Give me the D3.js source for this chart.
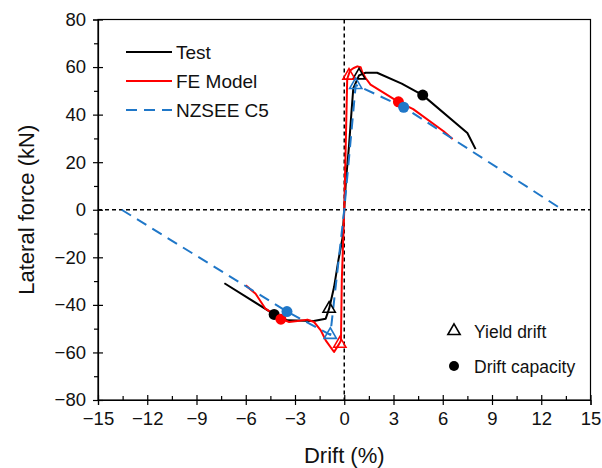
<!DOCTYPE html>
<html><head><meta charset="utf-8">
<script src="https://cdn.jsdelivr.net/npm/d3@7"></script>
<style>
html,body{margin:0;padding:0;background:#fff;}
svg{display:block;font-family:"Liberation Sans",Arial,sans-serif;}
</style></head>
<body>
<svg id="chart" width="602" height="468"></svg>
<script>
// ---- data ----
const xTickValues = [-15,-12,-9,-6,-3,0,3,6,9,12,15];
const yTickValues = [-80,-60,-40,-20,0,20,40,60,80];
const seriesNames = ["Test","FE Model","NZSEE C5"];
const testCurve = [[-7.3,-30.9],[-4.27,-44],[-3.46,-46.5],[-1.86,-46.8],[-1.13,-45.8],[-0.92,-41.6],[-0.62,-32.5],[-0.35,-21],[-0.11,-12],[0,0],[0.1,12],[0.28,26],[0.45,42],[0.55,51],[0.9,56.5],[1.3,57.6],[2.0,57.6],[3.5,53],[4.78,48.2],[7.5,32.3],[8.0,25.5]];
const feCurve = [[-6.0,-31.8],[-5.4,-35.3],[-4.8,-41.6],[-3.86,-45.8],[-3.36,-47.2],[-2.85,-46.8],[-2.24,-46.2],[-1.84,-47.2],[-1.43,-50.7],[-1.13,-54.9],[-0.62,-59.8],[-0.32,-56.5],[-0.2,-55],[-0.15,-30],[0,0],[0.1,30],[0.18,55],[0.35,58.5],[0.55,59.5],[0.8,60.3],[1.0,59.9],[1.1,57.8],[1.3,55.4],[1.6,52.6],[3.3,45.4],[4.2,42.3],[6.05,33],[6.6,29.7]];
const nzseeCurve = [[-13.56,0],[-3.49,-42.8],[-0.85,-52.6],[0,0],[0.7,52.5],[3.62,43.1],[13.3,0]];
const yieldPoints = [ {s:0,x:0.9,y:56.5},{s:0,x:-0.92,y:-41.6},{s:1,x:0.29,y:56.4},{s:1,x:-0.27,y:-56.3},{s:2,x:0.7,y:52.5},{s:2,x:-0.85,y:-52.6} ];
const capacityPoints = [ {s:0,x:4.78,y:48.2},{s:0,x:-4.27,y:-44},{s:1,x:3.3,y:45.4},{s:1,x:-3.86,y:-46},{s:2,x:3.62,y:43.1},{s:2,x:-3.49,y:-42.8} ];
const colors = ["#000000","#ff0000","#1f77c8"];

// ---- layout ----
const svg = d3.select("#chart");
const L=98, R=590.5, T=19.5, B=400;
const x = d3.scaleLinear().domain([-15,15]).range([L,R]);
const y = d3.scaleLinear().domain([-80,80]).range([B,T]);

// frame
svg.append("rect").attr("x",L).attr("y",T).attr("width",R-L).attr("height",B-T)
  .attr("fill","none").attr("stroke","#000").attr("stroke-width",1.2);

// zero dashed lines
svg.append("line").attr("x1",L).attr("x2",R).attr("y1",y(0)).attr("y2",y(0))
  .attr("stroke","#000").attr("stroke-width",1.5).attr("stroke-dasharray","4,3");
svg.append("line").attr("x1",x(0)).attr("x2",x(0)).attr("y1",T).attr("y2",B)
  .attr("stroke","#000").attr("stroke-width",1.5).attr("stroke-dasharray","4,3");

// axes
const minorX = d3.range(-13.5,15,3);
const minorY = d3.range(-70,80,20);
const gx = svg.append("g").attr("transform",`translate(0,${B})`)
  .call(d3.axisBottom(x).tickValues(xTickValues).tickSize(5).tickPadding(7).tickFormat(d3.format("d")));
gx.selectAll(".tick").append("line").attr("y2",-5).attr("stroke","#000");
svg.append("g").attr("transform",`translate(0,${B})`)
  .call(d3.axisBottom(x).tickValues(minorX).tickSize(-4).tickFormat(""))
  .select(".domain").remove();
const gy = svg.append("g").attr("transform",`translate(${L},0)`)
  .call(d3.axisLeft(y).tickValues(yTickValues).tickSize(5).tickPadding(7).tickFormat(d3.format("d")));
gy.selectAll(".tick").append("line").attr("x2",5).attr("stroke","#000");
svg.append("g").attr("transform",`translate(${L},0)`)
  .call(d3.axisLeft(y).tickValues(minorY).tickSize(4).tickFormat(""))
  .select(".domain").remove();
svg.selectAll(".domain").attr("stroke","#000").attr("stroke-width",1.2);
svg.selectAll(".tick line").attr("stroke","#000").attr("stroke-width",1.2);
svg.selectAll(".tick text").attr("font-size",18.5).attr("fill","#111")
  .attr("font-family","Liberation Sans, Arial, sans-serif");

// axis titles
svg.append("text").attr("x",x(0)).attr("y",463).attr("text-anchor","middle")
  .attr("font-size",22).attr("fill","#111").text("Drift (%)");
svg.append("text").attr("transform",`translate(34,${y(0)}) rotate(-90)`).attr("text-anchor","middle")
  .attr("font-size",22).attr("fill","#111").text("Lateral force (kN)");

// curves
const line = d3.line().x(d=>x(d[0])).y(d=>y(d[1]));
const curves = [testCurve, feCurve, nzseeCurve];
curves.forEach((c,i)=>{
  svg.append("path").datum(c).attr("d",line).attr("fill","none")
    .attr("stroke",colors[i]).attr("stroke-width",2)
    .attr("stroke-linejoin","round")
    .attr("stroke-dasharray", i===2 ? "11,7" : null);
});

// markers
const tri = d3.symbol().type(d3.symbolTriangle).size(65);
svg.selectAll(".yld").data(yieldPoints).join("path")
  .attr("transform",d=>`translate(${x(d.x)},${y(d.y)})`).attr("d",tri)
  .attr("fill","none").attr("stroke",d=>colors[d.s]).attr("stroke-width",1.6);
svg.selectAll(".cap").data(capacityPoints).join("circle")
  .attr("cx",d=>x(d.x)).attr("cy",d=>y(d.y)).attr("r",5.5)
  .attr("fill",d=>colors[d.s]);

// legend 1
const lg = svg.append("g");
seriesNames.forEach((n,i)=>{
  const yy = 52 + i*29;
  lg.append("line").attr("x1",126).attr("x2",172).attr("y1",yy).attr("y2",yy)
    .attr("stroke",colors[i]).attr("stroke-width",2)
    .attr("stroke-dasharray", i===2 ? "11,7" : null);
  lg.append("text").attr("x",176).attr("y",yy+7).attr("font-size",19).attr("fill","#111").text(n);
});

// legend 2
const lg2 = svg.append("g");
lg2.append("path").attr("transform","translate(454,331)").attr("d",tri)
  .attr("fill","none").attr("stroke","#000").attr("stroke-width",1.6);
lg2.append("text").attr("x",474).attr("y",338).attr("font-size",17.5).attr("fill","#111").text("Yield drift");
lg2.append("circle").attr("cx",454).attr("cy",366).attr("r",5).attr("fill","#000");
lg2.append("text").attr("x",474).attr("y",373).attr("font-size",17.5).attr("fill","#111").text("Drift capacity");
</script>
</body></html>
